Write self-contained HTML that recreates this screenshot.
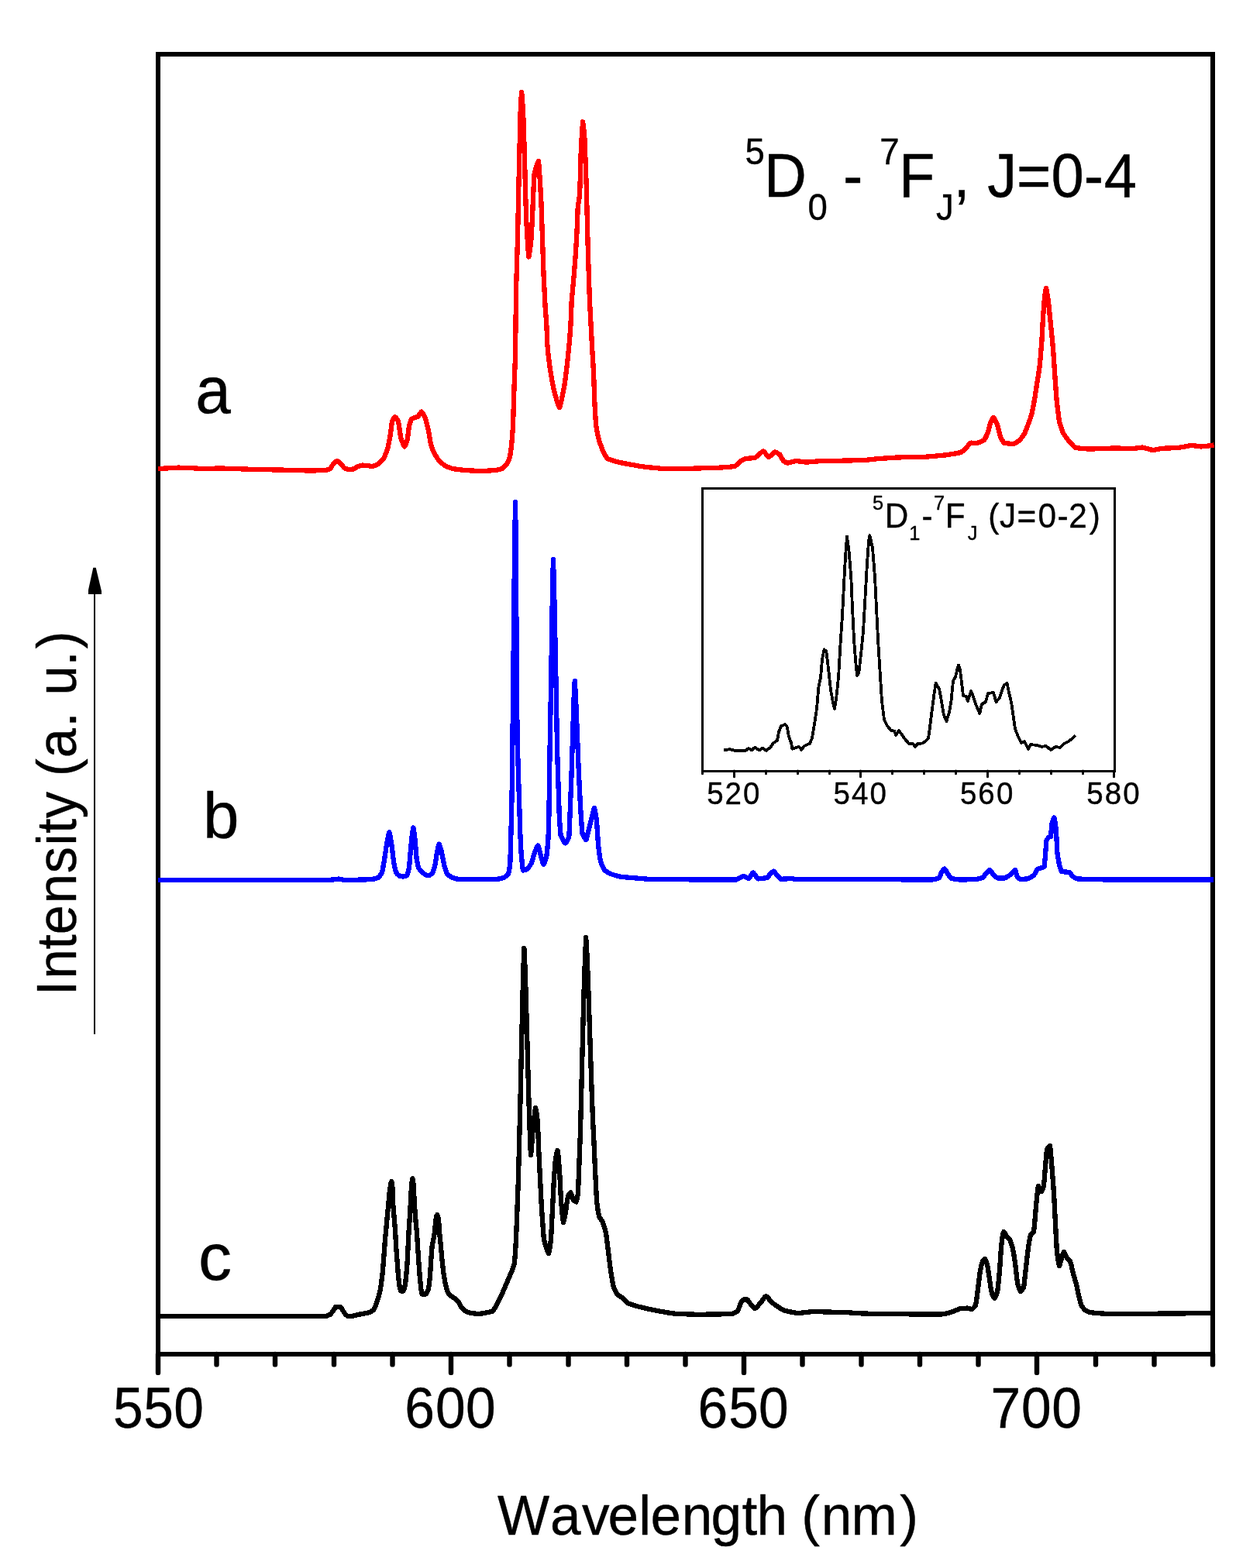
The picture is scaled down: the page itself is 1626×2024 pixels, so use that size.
<!DOCTYPE html>
<html lang="en">
<head>
<meta charset="utf-8">
<title>Emission spectra</title>
<style>
html,body{margin:0;padding:0;background:#fff;}
body{width:1626px;height:2024px;overflow:hidden;}
svg{display:block;}
text{font-family:"Liberation Sans",Arial,Helvetica,sans-serif;fill:#000;font-kerning:none;stroke:#000;stroke-width:0.4px;stroke-linejoin:round;}
</style>
</head>
<body>
<svg width="1626" height="2024" viewBox="0 0 1626 2024">
<rect x="0" y="0" width="1626" height="2024" fill="#fff"/>

<g shape-rendering="crispEdges" fill="#000">
<rect x="201" y="67" width="1367" height="6"/>
<rect x="201" y="1745" width="1367" height="6"/>
<rect x="201" y="67" width="6" height="1684"/>
<rect x="1562" y="67" width="6" height="1684"/>
</g>
<line x1="204" y1="1748" x2="204" y2="1771.9" stroke="#000" stroke-width="6.4" stroke-linecap="round"/>
<line x1="279.5" y1="1748" x2="279.5" y2="1761.4" stroke="#000" stroke-width="6.4" stroke-linecap="round"/>
<line x1="355" y1="1748" x2="355" y2="1761.4" stroke="#000" stroke-width="6.4" stroke-linecap="round"/>
<line x1="431" y1="1748" x2="431" y2="1761.4" stroke="#000" stroke-width="6.4" stroke-linecap="round"/>
<line x1="506.5" y1="1748" x2="506.5" y2="1761.4" stroke="#000" stroke-width="6.4" stroke-linecap="round"/>
<line x1="582" y1="1748" x2="582" y2="1771.9" stroke="#000" stroke-width="6.4" stroke-linecap="round"/>
<line x1="657.5" y1="1748" x2="657.5" y2="1761.4" stroke="#000" stroke-width="6.4" stroke-linecap="round"/>
<line x1="733.5" y1="1748" x2="733.5" y2="1761.4" stroke="#000" stroke-width="6.4" stroke-linecap="round"/>
<line x1="809" y1="1748" x2="809" y2="1761.4" stroke="#000" stroke-width="6.4" stroke-linecap="round"/>
<line x1="884.5" y1="1748" x2="884.5" y2="1761.4" stroke="#000" stroke-width="6.4" stroke-linecap="round"/>
<line x1="960" y1="1748" x2="960" y2="1771.9" stroke="#000" stroke-width="6.4" stroke-linecap="round"/>
<line x1="1035.5" y1="1748" x2="1035.5" y2="1761.4" stroke="#000" stroke-width="6.4" stroke-linecap="round"/>
<line x1="1111.5" y1="1748" x2="1111.5" y2="1761.4" stroke="#000" stroke-width="6.4" stroke-linecap="round"/>
<line x1="1187" y1="1748" x2="1187" y2="1761.4" stroke="#000" stroke-width="6.4" stroke-linecap="round"/>
<line x1="1262.5" y1="1748" x2="1262.5" y2="1761.4" stroke="#000" stroke-width="6.4" stroke-linecap="round"/>
<line x1="1338" y1="1748" x2="1338" y2="1771.9" stroke="#000" stroke-width="6.4" stroke-linecap="round"/>
<line x1="1414" y1="1748" x2="1414" y2="1761.4" stroke="#000" stroke-width="6.4" stroke-linecap="round"/>
<line x1="1489.5" y1="1748" x2="1489.5" y2="1761.4" stroke="#000" stroke-width="6.4" stroke-linecap="round"/>
<line x1="1565" y1="1748" x2="1565" y2="1761.4" stroke="#000" stroke-width="6.4" stroke-linecap="round"/>
<text transform="translate(0,1843.4) scale(1,1.06)"><tspan x="146.1 185.3 224.3" y="0.0" font-size="69.5">550</tspan></text>
<text transform="translate(0,1843.4) scale(1,1.06)"><tspan x="522.3 562.1 601.1" y="0.0" font-size="69.5">600</tspan></text>
<text transform="translate(0,1843.4) scale(1,1.06)"><tspan x="900.4 940.2 979.1" y="0.0" font-size="69.5">650</tspan></text>
<text transform="translate(0,1843.4) scale(1,1.06)"><tspan x="1278.5 1318.1 1357.3" y="0.0" font-size="69.5">700</tspan></text>
<text transform="translate(0,1981) scale(1,1.015)"><tspan x="642.0 710.0 750.9 784.6 824.2 839.5 879.7 917.6 957.5 976.6 1016.2 1034.2 1059.7 1098.6 1161.2" y="0.0" font-size="71.2">Wavelength (nm)</tspan></text>
<text transform="translate(98.3,1300.0) rotate(-90) translate(0,0) scale(0.94,1)"><tspan x="15.9 38.8 79.6 99.8 142.2 183.8 221.7 238.6 259.4 295.9 316.9 342.4 384.6 404.9 428.2 468.7 492.1" y="0.0" font-size="73">Intensity (a. u.)</tspan></text>
<g shape-rendering="crispEdges"><rect x="121" y="760" width="2" height="575" fill="#000"/></g>
<polygon points="120.3,732.8 123.7,732.8 131,763 131,766.9 114,766.9 114,761.5" fill="#000"/>
<text transform="translate(0,533.2) scale(1,1.03)"><tspan x="252.2" y="0.0" font-size="82">a</tspan></text>
<text transform="translate(0,1082.2) scale(1,1)"><tspan x="261.9" y="0.0" font-size="83.5">b</tspan></text>
<text transform="translate(0,1651.5) scale(1,0.985)"><tspan x="256.0" y="0.0" font-size="86">c</tspan></text>
<text transform="translate(0,253.8) scale(1,1.045)"><tspan x="961.5" y="-40.4" font-size="45.6">5</tspan><tspan x="985.9" y="0.0" font-size="76">D</tspan><tspan x="1042.5" y="28.5" font-size="45.6">0</tspan><tspan x="1067.8 1088.1 1113.4" y="0.0" font-size="76"> - </tspan><tspan x="1135.3" y="-40.4" font-size="45.6">7</tspan><tspan x="1160.0" y="0.0" font-size="76">F</tspan><tspan x="1208.0" y="28.5" font-size="45.6">J</tspan><tspan x="1230.5 1251.6 1274.3 1311.9 1356.5 1398.8 1424.8" y="0.0" font-size="76">, J=0-4</tspan></text>
<g shape-rendering="crispEdges" fill="#000">
<rect x="905" y="629" width="535" height="3"/>
<rect x="905" y="994" width="535" height="3"/>
<rect x="905" y="629" width="3" height="368"/>
<rect x="1437" y="629" width="3" height="368"/>
</g>
<line x1="906.5" y1="995" x2="906.5" y2="998.8" stroke="#000" stroke-width="3" stroke-linecap="round"/>
<line x1="947.5" y1="995" x2="947.5" y2="1002.8" stroke="#000" stroke-width="3" stroke-linecap="round"/>
<line x1="988.5" y1="995" x2="988.5" y2="998.8" stroke="#000" stroke-width="3" stroke-linecap="round"/>
<line x1="1029.5" y1="995" x2="1029.5" y2="998.8" stroke="#000" stroke-width="3" stroke-linecap="round"/>
<line x1="1070.5" y1="995" x2="1070.5" y2="998.8" stroke="#000" stroke-width="3" stroke-linecap="round"/>
<line x1="1110.5" y1="995" x2="1110.5" y2="1002.8" stroke="#000" stroke-width="3" stroke-linecap="round"/>
<line x1="1151.5" y1="995" x2="1151.5" y2="998.8" stroke="#000" stroke-width="3" stroke-linecap="round"/>
<line x1="1192.5" y1="995" x2="1192.5" y2="998.8" stroke="#000" stroke-width="3" stroke-linecap="round"/>
<line x1="1233.5" y1="995" x2="1233.5" y2="998.8" stroke="#000" stroke-width="3" stroke-linecap="round"/>
<line x1="1274.5" y1="995" x2="1274.5" y2="1002.8" stroke="#000" stroke-width="3" stroke-linecap="round"/>
<line x1="1315.5" y1="995" x2="1315.5" y2="998.8" stroke="#000" stroke-width="3" stroke-linecap="round"/>
<line x1="1356.5" y1="995" x2="1356.5" y2="998.8" stroke="#000" stroke-width="3" stroke-linecap="round"/>
<line x1="1397.5" y1="995" x2="1397.5" y2="998.8" stroke="#000" stroke-width="3" stroke-linecap="round"/>
<line x1="1437.5" y1="995" x2="1437.5" y2="1002.8" stroke="#000" stroke-width="3" stroke-linecap="round"/>
<text transform="translate(0,1037.6) scale(1,1.035)"><tspan x="912.2 935.6 959.1" y="0.0" font-size="38.5">520</tspan></text>
<text transform="translate(0,1037.6) scale(1,1.035)"><tspan x="1075.6 1099.1 1122.5" y="0.0" font-size="38.5">540</tspan></text>
<text transform="translate(0,1037.6) scale(1,1.035)"><tspan x="1238.9 1262.3 1285.9" y="0.0" font-size="38.5">560</tspan></text>
<text transform="translate(0,1037.6) scale(1,1.035)"><tspan x="1402.3 1425.8 1449.2" y="0.0" font-size="38.5">580</tspan></text>
<text transform="translate(0,681.2) scale(1,1.045)"><tspan x="1125.9" y="-22.4" font-size="25.4">5</tspan><tspan x="1141.7" y="0.0" font-size="42.3">D</tspan><tspan x="1173.3" y="15.0" font-size="25.4">1</tspan><tspan x="1189.5" y="0.0" font-size="42.3">-</tspan><tspan x="1204.9" y="-22.4" font-size="25.4">7</tspan><tspan x="1219.7" y="0.0" font-size="42.3">F</tspan><tspan x="1248.8" y="15.0" font-size="25.4">J</tspan><tspan x="1261.5 1275.3 1290.1 1312.6 1339.6 1364.5 1379.2 1405.7" y="0.0" font-size="42.3"> (J=0-2)</tspan></text>
<polyline points="934,968.4 942,967.2 950,969.2 962,969.2 966,965.8 970,968.4 974,964.8 980,968.4 984,965.8 989,968.8 994,964.8 998,959.2 1003,955.8 1005,944.8 1008,937.2 1013,935.2 1015.6,937.8 1018,950.8 1021,958.8 1022.4,966.8 1028,964.8 1031,963.8 1034.4,967.8 1038,962.8 1045,959.8 1048,952.8 1051,934.8 1054,914.8 1056.4,886.8 1059,874.8 1061,850.8 1063.5,838.4 1066.3,840.8 1069,862.8 1072,890.8 1075,906.8 1077,914.8 1079,902.8 1082,874.8 1084.3,834.8 1087,794.8 1089,754.8 1091,718.8 1093,692.5 1095.5,711 1098.3,745 1100,785 1102,825 1104.3,855 1106,871.8 1108.3,868.8 1111,844.8 1114,814.8 1116.3,774.8 1119,727 1121,699 1122.3,691 1126,707 1129,745 1131,785 1133,825 1135.5,865 1138,905 1141,929 1145,937 1150,943 1154,943.5 1156.3,949 1160,943 1165,950 1167,953 1173,960 1178,960 1181,964 1184.4,960 1190,959.5 1194,957 1198,953 1200,939 1203,915 1205.6,895 1207.6,882 1212,889 1215,905 1218,923 1221.5,931 1225,919 1227.5,905 1230,879 1233,874 1235.5,863 1237,858.5 1239,865 1241,881 1243,898 1247,899 1249,905 1253,892 1256,899 1260,911 1264.3,921 1267,909 1272,906 1275,895 1282,894 1285.5,906 1290,901 1293,891 1296,884 1299.5,882 1302.3,895 1305.5,909 1308,927 1310,941 1314,951 1318,959 1322,957 1327,967 1330,961 1338,962 1344,964 1350,963 1356,968 1362,964 1368,965 1373,960 1379,957 1384,953 1388,949.4" fill="none" stroke="#000" stroke-width="3.8" stroke-linejoin="round" stroke-linecap="butt" shape-rendering="crispEdges"/>
<polyline points="204,1699 420,1699 422.5,1698.31 426,1696.8 428,1694.49 430,1691.8 432.5,1687.87 433.5,1686.8 439,1686.8 439.5,1687.24 440.5,1688.51 444.5,1694.87 446,1697 448,1698.33 449.5,1699 455,1698.8 456,1698.61 462.5,1696.89 476,1694.3 479.5,1692.62 482,1691 483.5,1688.1 485,1684.51 486,1682 488,1675.47 489.5,1670.1 491,1664 492.5,1652.91 494,1640 497,1600 502.6,1540 504,1529.5 504.5,1527.39 505.2,1525.2 505.5,1526.26 506.3,1531 507,1545 507.4,1557.3 510,1587.52 511.1,1608.7 514,1647.03 514.5,1651.65 515.6,1660 516.5,1664.46 517.1,1666.5 520.5,1666.5 521.5,1663.97 523,1658.1 524.5,1643.3 525.5,1631.24 527.6,1588.9 529.2,1565.2 531,1531 532,1523.15 532.4,1521.2 533,1524.35 533.6,1529 534.6,1549 535.6,1565.2 536.8,1580 537.8,1588.9 540.3,1628.5 541.8,1648.2 543.2,1663 544,1667.66 544.7,1670.5 549.7,1670.5 551,1668.41 552,1666.07 553.1,1663 554,1656.44 554.9,1648.2 556.1,1628.5 557.6,1608.7 560.8,1591.9 562,1578 563,1571.04 563.2,1570 564.2,1568.2 565,1570.01 565.6,1572 566,1575.47 566.6,1582 567.5,1595.16 568.9,1608.7 570.7,1628.5 572.4,1643.3 574.9,1658.1 576.5,1664.02 577.8,1668 579.5,1670.34 581.8,1672.9 586.7,1675.9 589,1677.99 591,1680.03 592,1681.27 595.6,1687.7 599,1691.34 600,1692.2 601,1692.64 604.5,1693.97 608,1695 613.5,1695.65 618,1696 623,1695.34 630,1694 633.5,1693.17 636,1692.4 637.5,1690.35 639,1687.72 644,1678.1 648,1670 660,1642 662.5,1635.27 664,1630 665,1616.76 666,1600 669,1520 671.5,1419.16 674.5,1284.04 675.5,1247.5 676.4,1224 677,1235.6 678,1261.77 679,1294.39 683,1440.77 684.5,1482.09 685,1491 685.5,1486.69 686,1480.55 687.5,1460 690,1436.75 691.1,1430 692,1434.19 693,1441.13 694,1450 695,1480 698.5,1550.53 699,1560 700,1574.87 701.5,1594.83 702,1600 704,1607.67 706,1613.84 707,1616.2 708,1618 708.5,1616.17 709.5,1610.8 711,1600 715,1520 716.5,1501.09 717,1496 717.5,1493.28 718.5,1488.35 719.5,1485 720,1488.26 720.5,1492.78 722,1510 724,1550 726,1571.15 727,1578 728,1574.46 730,1564 732,1549.83 733,1544 735,1540.73 736.3,1539.4 737,1540.7 739,1546.54 740,1549 742,1550.68 743.5,1551.5 744.5,1548.18 746,1540 749,1460 752,1337.98 753.5,1282.25 755,1236.26 756.2,1210 757.5,1232.47 759,1268.77 763.5,1404.58 765,1445.19 766.3,1470 768,1510 770,1550 771.5,1561.43 773,1570 774,1571.91 777,1576.29 778,1578 780,1584.32 782,1592 783,1599.32 788,1640 790.5,1654.69 792,1662 794,1666.45 796,1670 798.5,1672.08 804,1676 808,1680.17 810,1682 813.5,1683.43 820,1685.6 826.5,1687.27 840,1690.4 861,1694.31 870,1695.6 886.5,1696.38 900,1696.8 930,1696.4 939,1696.04 946,1695.6 947.5,1694.97 949,1694.14 952,1692 953,1689.86 956,1682 958,1678.72 959,1677.6 964,1677.4 965.5,1678.93 969,1684 972.5,1687.65 973.5,1688.47 974.4,1689 976,1687.85 977.5,1686.34 982.5,1680.38 986.5,1674.89 987.5,1673.8 988.5,1673 989.5,1673.68 990.5,1674.6 995,1679.94 996.5,1681.41 1000,1684.12 1004,1687 1010,1690.62 1012,1691.6 1019.5,1693.34 1025.5,1694.44 1030,1695 1034.5,1694.65 1045.5,1693.35 1050,1693 1069.5,1693.59 1090.5,1694.02 1115,1695.6 1173.5,1696.36 1216,1696.4 1218.5,1696.01 1222,1695.23 1230,1693 1237.5,1689.8 1240,1689 1248,1688.6 1254,1690 1255,1689.39 1256.5,1688.08 1257.5,1686.98 1259,1685 1259.5,1682.41 1260.5,1675.55 1265,1640 1266.5,1633.3 1268,1628 1269.5,1626.2 1271,1625 1271.5,1625.72 1272.5,1627.85 1274,1632 1275,1637.99 1278.5,1661.68 1280,1670 1282,1674.03 1283,1675.49 1283.5,1676 1284.5,1674.44 1285.5,1672.2 1287,1668 1287.5,1664.39 1288.5,1655.49 1290,1640 1292,1610 1293,1601.23 1294,1594 1295,1590.62 1295.3,1590 1296.5,1591.55 1299,1596 1302,1598.88 1303,1600 1305,1605.36 1307,1612 1308.5,1620.43 1310,1630 1312,1648.13 1313,1656 1314.5,1661.06 1315.5,1663.95 1316.5,1666.19 1317,1667 1318,1666.2 1319,1665.07 1321,1662 1322,1654.76 1324,1636 1327,1610 1328.5,1601.09 1329.5,1596 1330,1594 1331,1592.89 1333,1591.21 1334,1590 1335,1581.11 1338,1546 1339,1537.35 1339.5,1533.61 1340,1531 1341,1532.42 1343,1536.58 1344,1538 1345,1536.14 1346.5,1531.75 1347,1530 1347.5,1525.02 1350,1493.87 1351,1484 1352,1482.29 1353,1480.88 1354,1479.78 1355,1479 1355.5,1482.72 1357,1500 1360,1540 1363,1599.2 1364,1616 1365.5,1626.75 1366.5,1632.16 1367,1634 1367.5,1632.9 1370,1624 1372,1618.04 1373,1616 1374,1617.5 1377,1624 1380,1626.86 1381,1628 1382.5,1633.34 1385,1644 1389,1658 1392,1672 1394,1680.44 1395,1684 1397.5,1687.94 1400,1691 1403,1692.72 1406,1694 1417.5,1695.21 1430,1696 1505.5,1695.6 1566.5,1695" fill="none" stroke="#000" stroke-width="6.3" stroke-linejoin="round" stroke-linecap="butt" shape-rendering="crispEdges"/>
<polyline points="204,1136 420,1136 430,1135.5 437,1134.5 445,1136 470,1135.5 480,1135 482.5,1134.53 485.5,1133.79 488,1133 489.5,1131.4 490.5,1130.09 493,1126 494,1121.4 496,1110 499,1090 501,1079.56 501.5,1077.34 502.4,1074.4 503,1076.56 503.5,1079 505.6,1092 508,1112 509.5,1119.79 511,1126 513,1128.57 515,1130.4 517.5,1131.01 520,1131.4 521.5,1131.13 523.5,1130.57 525,1130 525.5,1128.89 526.5,1125.91 528,1120 530,1096 531.5,1080.9 532.5,1073.31 533.4,1068.4 534,1071.42 535.6,1084 537.6,1108 539,1115.76 540,1120 542,1122.79 545,1126 547,1127.61 549,1129 551.5,1130 553,1130.4 555,1129.4 558,1127 559.5,1123.13 561.6,1116 564,1100 565.5,1093.13 566,1091.24 566.6,1089.6 567.5,1091.53 568,1093 570,1100 573,1116 575,1122.67 576.5,1126.86 577,1128 579,1129.76 581.5,1131.54 584,1133 588.5,1134.32 592,1135 640,1135 644,1134.41 650,1133 652.5,1131.37 655,1129.15 656,1128 656.5,1126.01 657.5,1120.76 658.3,1115 659.2,1085 660.5,1030.68 661,996.31 664,716.11 664.5,680.01 665.1,648 665.5,682.52 667.5,947 668.5,983.74 671.4,1078 672.6,1101.6 674,1116.4 674.5,1120.53 675,1123.5 677.5,1122.9 680,1122 681.5,1120.45 683,1118.57 686,1114 687,1110.83 690,1100 692.5,1094.33 693.5,1092.52 694.3,1091.5 695,1093.21 695.5,1094.88 697.5,1102.91 700,1112.02 701,1114.99 701.5,1116 702.5,1114.03 703.5,1111.26 705.5,1104 706.5,1094.49 707.3,1085 708.2,1066 709.7,959 711,888.37 713,760.87 713.9,722 714.5,738.76 715.5,778.91 717.9,900 718.9,959 719.5,981.5 721.8,1054 723,1071.67 723.6,1078 725,1081.41 726.5,1084.38 728,1086.67 729.5,1088.3 731,1086.64 732,1085.1 733,1083.16 734.3,1080 735,1066.05 737.5,1000 740.5,904.91 741,892.23 741.7,879 742.5,890.77 743.5,911.48 746.5,988.45 748,1020.53 749,1040 750,1056.18 751,1070.68 751.5,1076 753,1079.33 754.5,1081.92 755.5,1083.22 756.3,1084 756.5,1083.58 757,1082.23 758,1078.53 759.5,1072.02 766,1045.84 767,1043 767.5,1044.75 768.5,1049.91 770,1060 772,1090 773.5,1102.23 775,1112 777.5,1118.29 778.5,1120.35 780,1123 783,1125.18 788,1128 794.5,1130.15 800,1131.6 807,1132.32 831,1134.38 839.5,1134.98 889,1135.36 950,1135.6 951.5,1135.01 956,1132.4 958.5,1131.41 960,1131 961,1131.36 964.5,1133.39 966,1134 966.5,1133.61 967.5,1132.46 970.5,1127.94 971.5,1126.79 972,1126.4 972.5,1126.81 973.5,1128.03 976.5,1132.78 977.5,1133.99 978,1134.4 984,1133.89 990,1133 991,1132.01 994,1128 996.5,1125.74 997.5,1125.01 998.3,1124.6 999.5,1125.61 1002.5,1129.42 1005.5,1132.73 1007,1134.15 1008,1134.8 1022,1134 1026,1135.2 1204,1135.4 1207.5,1134.65 1210,1133.83 1212,1133 1213,1130.96 1215,1126 1217.5,1122.78 1219,1121.5 1219.5,1122.01 1220.5,1123.5 1223,1128 1226,1131.98 1227.5,1133.59 1228,1134 1234.5,1135.07 1240,1135.6 1258.5,1135.07 1260,1135 1261.5,1134.74 1266,1133.65 1268,1133 1269,1131.96 1272,1128 1274.5,1125.3 1276,1123.86 1277.3,1123 1278.5,1124.14 1282,1129 1285.5,1132.07 1287,1133.11 1288,1133.6 1296,1133.6 1298,1132.8 1300,1131.67 1304,1129 1308,1124.61 1309,1123.67 1310,1123 1310.5,1124.29 1312.3,1131 1314,1132.83 1315.5,1134.12 1317,1135 1326,1134.4 1328,1133.6 1329.5,1132.84 1334,1130 1335,1128.56 1338,1123.35 1339,1122 1343,1120.4 1346,1119.59 1347.5,1119 1348,1115.12 1349,1104 1350.3,1086 1351.5,1083.27 1353,1081 1356,1080 1357.3,1064 1359,1058.31 1359.5,1057.07 1360.3,1055.6 1361,1058.41 1361.5,1061.16 1363,1072 1364.3,1100 1365.5,1108.14 1367,1116 1369,1122.73 1370,1125 1380,1126 1381,1127 1384,1131 1387.5,1133.27 1389.5,1134.23 1390,1134.4 1401.5,1134.87 1425,1135.4 1566.5,1135.6" fill="none" stroke="#0000ff" stroke-width="6.3" stroke-linejoin="round" stroke-linecap="butt" shape-rendering="crispEdges"/>
<polyline points="204,605 215,604.5 230,603.6 245,604 260,605 285,604.5 329.5,605.99 361.5,606.53 397,607.46 407.5,607.38 420,607 422.5,606.36 426,605 427,603.72 430,599 433,596.25 434,595.52 435,595 436,595.53 437,596.28 440,599 443.5,603.05 445,604.5 447.5,605.4 450,606 456,605.5 457.5,604.77 462,602 465.5,601.05 468,600.6 474,601 479,601.89 480,602 480.5,601.9 484,600.78 488,599 488.5,598.6 491.5,595.89 495,592 496.5,588.89 498.5,584.08 500,580 501,575.61 504,560 506,544 507.5,540.87 509,538.6 509.6,538 511,539.31 512.5,541.4 514,544 514.5,546.69 517,564 518.5,568.61 520,572.71 521,574.9 522,576.5 522.5,575.8 523.5,573.81 525.6,568 528,550 529.5,544.85 531,541 532.5,540.11 535,539 539,538 540,536.88 542.5,533.11 543.5,531.91 544,531.5 545,532.6 546.5,534.99 549,540 549.5,541.67 551,547.39 553,556 556,574 557.5,578.16 559,581.74 560,584 562,587.61 564,590.97 566,594 570.5,598.24 574,601 577.5,602.6 581,604 584,605 585.5,605.24 592,606.13 600,607 612.5,607.72 620,608 631.5,607.54 639.5,607.04 641,606.82 645,605.9 648,605 649.5,603.81 651,602.38 654,599 656,595.05 658,590 659,583.69 660,576 661,564.25 662,550 663.5,500 665,460 666.1,372 668,308 669.3,244 671.5,148 672.5,127.18 673.1,119 673.5,122.55 674.5,136.42 675.2,148 675.5,155.83 676.8,196 678,244 679.2,284 681,315.21 681.5,322.22 682.4,331.5 683,328.73 684,322.02 685.6,308 687.2,276 688.5,244 689.6,225 691,218.88 692,215.21 693.5,210.84 694.9,208 695.5,213.91 696.5,228 698.4,260 701.6,356 703.6,396 705,414.4 705.6,424 706,440 706.5,446.62 707.5,457.11 709,470 711.5,486.05 714,500 717,511.52 719,518.53 720.5,522.86 722,526 723,523.26 724.5,517.39 728,500 729.5,489.51 732,470 735,440 736.4,420 737.7,388 740.5,357.87 742.5,332 743.5,316.77 744.5,300 745.7,268 746.5,262.08 747.5,256.06 748,252 748.9,228 749.7,196 751,172 752.1,157.3 753,163.59 754.5,180 756.9,244 758,292 759,329.34 760.9,388 764.2,450 766,480 767.4,520 769,548 770,554.1 771.5,561.51 773,568 774.5,572.61 778,582 781.5,588.41 783,590.72 784,592 787.5,593.49 792,595 800,597 810,599 826.5,601.87 830,602.4 840.5,603.56 853.5,604.8 860,605.2 868,605.13 891,604.78 927.5,603.7 939.5,602.91 948,602 949,601.38 950.5,600.16 955.5,595.39 956,595 959,593.32 962,592 974,591 976,589.62 979.5,586.42 982.5,583.96 984,582.89 985,582.4 986.5,583.66 990.5,588.74 992,590 993,589.46 994,588.7 998,584.9 999,584.14 1000,583.6 1001.5,584.06 1003,584.72 1006,586.4 1007,587.88 1009.5,592.61 1011,595 1013.5,596.55 1015,597.27 1016,597.6 1019,597.07 1026,595.31 1028,595 1040,596.6 1044.5,596.33 1060,595 1089,594.62 1114.5,594.02 1118.5,593.69 1130,592.4 1151.5,590.85 1160,590.4 1190,590 1204,588.97 1220,587.4 1232,585.63 1240,584 1242,582.58 1246,579 1251,573.2 1252,572.28 1253,571.6 1260,572 1262.5,571.36 1265,570.45 1267.5,569.32 1270,568 1272,564.64 1275,558 1278,546 1280.5,540.98 1281.5,539.52 1282,539 1283,540.17 1284,541.78 1287,548 1288,551.74 1290,560.33 1291,564 1293.5,568.67 1295,570.91 1296,572 1304.5,572.82 1308,573 1308.5,572.83 1310,572.15 1311.5,571.26 1316,568 1319,564.34 1322,560 1324,555.22 1329.5,540.53 1331,536 1332,531.45 1335,516 1341,477.15 1342,470 1344.4,440 1346,410 1347.5,389.71 1348,384 1348.5,380.41 1349.5,374.05 1350,372 1351,376.5 1353,390 1358,439.52 1359,450 1362,494.36 1363.6,516 1365.5,532.92 1367,544 1369,550.81 1372,559 1374.5,562.83 1378,567.48 1380,570 1385.5,576.03 1387,577.32 1388,578 1397,579.01 1406,579.6 1440,578.4 1460,579.2 1474,577.6 1477.5,578.29 1484.5,580.31 1488,581 1491.5,580.48 1498,579.11 1500,578.8 1520.5,577.94 1525,577.22 1532.5,575.75 1537.5,575.04 1540.5,575.22 1547,576.12 1550,576.4 1559,575.58 1566.5,574.4" fill="none" stroke="#ff0000" stroke-width="6.3" stroke-linejoin="round" stroke-linecap="butt" shape-rendering="crispEdges"/>
</svg>
</body>
</html>
